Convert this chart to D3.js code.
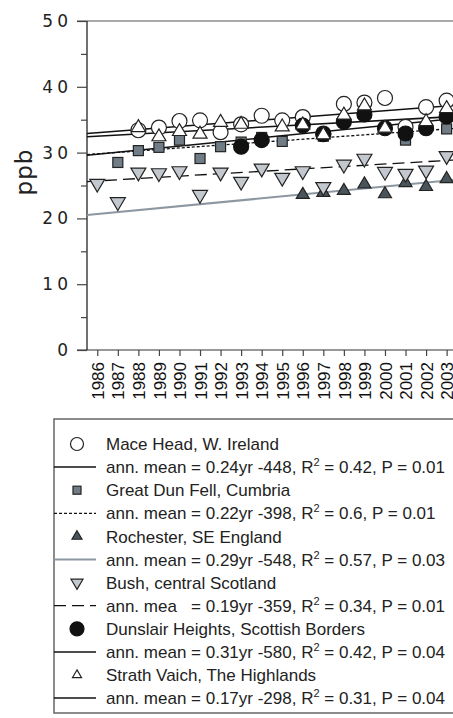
<!DOCTYPE html>
<html><head><meta charset="utf-8">
<script src="https://cdn.jsdelivr.net/npm/d3@7/dist/d3.min.js"></script>
<style>
html,body{margin:0;padding:0;background:#fff;}
svg{display:block;}
</style></head>
<body>
<svg id="chart" width="453" height="718"></svg>
<script>
// ---- data ----
const yTicks = [0, 10, 20, 30, 40, 50];
const yMinorTicks = [5, 15, 25, 35, 45];
const xYears = [1986,1987,1988,1989,1990,1991,1992,1993,1994,1995,1996,1997,1998,1999,2000,2001,2002,2003];

const maceYears = [1988,1989,1990,1991,1992,1993,1994,1995,1996,1997,1998,1999,2000,2001,2002,2003];
const maceValues = [33.4,33.8,34.8,34.9,33.1,34.3,35.6,34.9,35.4,32.9,37.4,37.6,38.3,33.9,36.9,37.9];

const gdfYears = [1987,1988,1989,1990,1991,1992,1993,1994,1995,1997,2001,2003];
const gdfValues = [28.5,30.3,30.8,31.9,29.1,30.9,31.6,32.3,31.7,32.5,31.9,33.6];

const rochYears = [1996,1997,1998,1999,2000,2001,2002,2003];
const rochValues = [23.6,23.9,24.2,25.2,23.7,25.4,24.8,26.0];

const bushYears = [1986,1987,1988,1989,1990,1991,1992,1993,1994,1995,1996,1997,1998,1999,2000,2001,2002,2003];
const bushValues = [25.3,22.5,27.0,26.9,27.2,23.6,27.0,25.6,27.6,26.2,27.2,24.8,28.2,29.1,27.1,26.8,27.3,29.5];

const dunsYears = [1993,1994,1996,1997,1998,1999,2000,2001,2002,2003];
const dunsValues = [30.9,31.9,34.1,32.8,34.7,35.8,33.7,32.9,33.7,35.5];

const strathYears = [1988,1989,1990,1991,1992,1993,1995,1996,1997,1998,1999,2000,2002,2003];
const strathValues = [33.8,32.4,33.2,32.8,34.6,34.3,33.9,34.2,32.7,35.7,37.1,33.7,34.7,36.7];

// trend lines: value at start year and end year
const trendYears = [1985.5, 2003.5];
const maceTrend = [32.9, 37.2];
const gdfTrend = [29.7, 33.7];
const rochTrend = [20.5, 25.9];
const bushTrend = [25.6, 28.9];
const dunsTrend = [29.6, 35.2];
const strathTrend = [32.4, 35.5];

const legendLabels = [
  "Mace Head, W. Ireland",
  ["ann. mean = 0.24yr -448, R", "2", " = 0.42, P = 0.01"],
  "Great Dun Fell, Cumbria",
  ["ann. mean = 0.22yr -398, R", "2", " = 0.6, P = 0.01"],
  "Rochester, SE England",
  ["ann. mean = 0.29yr -548, R", "2", " = 0.57, P = 0.03"],
  "Bush, central Scotland",
  ["ann. mea\u00a0\u00a0 = 0.19yr -359, R", "2", " = 0.34, P = 0.01"],
  "Dunslair Heights, Scottish Borders",
  ["ann. mean = 0.31yr -580, R", "2", " = 0.42, P = 0.04"],
  "Strath Vaich, The Highlands",
  ["ann. mean = 0.17yr -298, R", "2", " = 0.31, P = 0.04"]
];

// ---- scales ----
const svg = d3.select("#chart");
const x = d3.scaleLinear().domain([1985.5, 2003.5]).range([87, 456.9]);
const y = d3.scaleLinear().domain([0, 50]).range([350, 21]);

// ---- styles ----
const styles = {
  mace:   {shape:"circle", size:7.5, fill:"#fff", stroke:"#222", line:{stroke:"#111", w:1.5, dash:null}},
  gdf:    {shape:"square", size:10, fill:"#707d87", stroke:"#222", line:{stroke:"#111", w:1.3, dash:"3,2"}},
  roch:   {shape:"tri", size:13, fill:"#4a555b", stroke:"#222", line:{stroke:"#8c97a1", w:2, dash:null}},
  bush:   {shape:"itri", size:15, fill:"#c3c7ce", stroke:"#222", line:{stroke:"#111", w:1.3, dash:"12,6"}},
  duns:   {shape:"circle", size:7.5, fill:"#111", stroke:"#111", line:{stroke:"#111", w:1.5, dash:null}},
  strath: {shape:"tri", size:14, fill:"#fff", stroke:"#222", line:{stroke:"#111", w:1.5, dash:null}}
};

function drawMarker(g, shape, cx, cy, s, fill, stroke, sw) {
  if (shape === "circle") {
    g.append("circle").attr("cx", cx).attr("cy", cy).attr("r", s)
      .attr("fill", fill).attr("stroke", stroke).attr("stroke-width", sw);
  } else if (shape === "square") {
    g.append("rect").attr("x", cx - s/2).attr("y", cy - s/2).attr("width", s).attr("height", s)
      .attr("fill", fill).attr("stroke", stroke).attr("stroke-width", sw);
  } else if (shape === "tri") {
    const h = s * 0.85;
    g.append("path").attr("d", `M${cx},${cy - h*2/3}L${cx + s/2},${cy + h/3}L${cx - s/2},${cy + h/3}Z`)
      .attr("fill", fill).attr("stroke", stroke).attr("stroke-width", sw).attr("stroke-linejoin","miter");
  } else if (shape === "itri") {
    const h = s * 0.85;
    g.append("path").attr("d", `M${cx},${cy + h*2/3}L${cx + s/2},${cy - h/3}L${cx - s/2},${cy - h/3}Z`)
      .attr("fill", fill).attr("stroke", stroke).attr("stroke-width", sw).attr("stroke-linejoin","miter");
  }
}

// ---- frame & axes ----
const axisColor = "#333";
svg.append("line").attr("x1", 77).attr("x2", 460).attr("y1", y(50)).attr("y2", y(50))
  .attr("stroke", "#555").attr("stroke-width", 1.2);
svg.append("line").attr("x1", 77).attr("x2", 460).attr("y1", y(0)).attr("y2", y(0))
  .attr("stroke", axisColor).attr("stroke-width", 1.2);
svg.append("line").attr("x1", x(1985.5)).attr("x2", x(1985.5)).attr("y1", y(50)).attr("y2", y(0))
  .attr("stroke", "#111").attr("stroke-width", 1.2);

const yAxis = svg.append("g").attr("transform", `translate(${x(1985.5)},0)`)
  .call(d3.axisLeft(y).tickValues(yTicks).tickSize(10).tickPadding(5).tickFormat(d3.format("d")));
yAxis.select(".domain").remove();
yAxis.selectAll("line").attr("stroke", "#444").attr("stroke-width", 1.2);
yAxis.selectAll("text").attr("font-family", "DejaVu Sans").attr("font-size", 17)
  .attr("letter-spacing", "4px").attr("fill", "#222");

const yMinor = svg.append("g").attr("transform", `translate(${x(1985.5)},0)`)
  .call(d3.axisLeft(y).tickValues(yMinorTicks).tickSize(6).tickFormat(""));
yMinor.select(".domain").remove();
yMinor.selectAll("line").attr("stroke", "#444").attr("stroke-width", 1.2);

const xAxis = svg.append("g").attr("transform", `translate(0,${y(0)})`)
  .call(d3.axisBottom(x).tickValues(xYears).tickSize(6).tickFormat(d3.format("d")));
xAxis.select(".domain").remove();
xAxis.selectAll("line").attr("stroke", "#444").attr("stroke-width", 1.2);
xAxis.selectAll("text")
  .attr("transform", "rotate(-90)").attr("x", -12).attr("y", 0).attr("dy", "0.36em")
  .attr("text-anchor", "end").attr("font-family", "Liberation Sans, Arial, sans-serif")
  .attr("font-size", 17).attr("fill", "#111");

svg.append("text").attr("transform", `translate(${32},${172}) rotate(-90)`)
  .attr("text-anchor", "middle").attr("font-family", "DejaVu Sans").attr("font-size", 23)
  .attr("letter-spacing", "1px").attr("fill", "#222").text("ppb");

// ---- trend lines ----
const plot = svg.append("g");
const lineGen = d3.line().x(d => x(d[0])).y(d => y(d[1]));
function trend(vals, st) {
  plot.append("path").attr("d", lineGen(trendYears.map((t, i) => [t, vals[i]])))
    .attr("fill", "none").attr("stroke", st.line.stroke).attr("stroke-width", st.line.w)
    .attr("stroke-dasharray", st.line.dash);
}
trend(rochTrend, styles.roch);
trend(bushTrend, styles.bush);
trend(gdfTrend, styles.gdf);
trend(dunsTrend, styles.duns);
trend(strathTrend, styles.strath);
trend(maceTrend, styles.mace);

// ---- markers ----
function series(years, vals, st) {
  const g = plot.append("g");
  years.forEach((yr, i) => drawMarker(g, st.shape, x(yr), y(vals[i]), st.size, st.fill, st.stroke, 1.2));
}
series(maceYears, maceValues, styles.mace);
series(gdfYears, gdfValues, styles.gdf);
series(rochYears, rochValues, styles.roch);
series(bushYears, bushValues, styles.bush);
series(dunsYears, dunsValues, styles.duns);
series(strathYears, strathValues, styles.strath);

// ---- legend ----
const leg = svg.append("g");
const legTop = 419, legLeft = 54;
leg.append("rect").attr("x", legLeft).attr("y", legTop).attr("width", 420).attr("height", 294)
  .attr("fill", "none").attr("stroke", "#666").attr("stroke-width", 1.5);
const legendStyles = [styles.mace, styles.gdf, styles.roch, styles.bush, styles.duns, styles.strath];
const legendMarkerSize = [6.5, 8, 10, 12, 7, 9];
legendLabels.forEach((lab, i) => {
  const ry = 444 + i * 23.1;
  const st = legendStyles[Math.floor(i / 2)];
  if (i % 2 === 0) {
    drawMarker(leg, st.shape, 77, ry, legendMarkerSize[i/2], st.fill, st.stroke, 1.2);
  } else {
    leg.append("line").attr("x1", legLeft).attr("x2", 96).attr("y1", ry).attr("y2", ry)
      .attr("stroke", st.line.stroke).attr("stroke-width", st.line.w)
      .attr("stroke-dasharray", st.line.dash);
  }
  const t = leg.append("text").attr("x", 106).attr("y", ry).attr("dy", "0.36em")
    .attr("font-family", "Liberation Sans, Arial, sans-serif").attr("font-size", 17).attr("fill", "#222");
  if (typeof lab === "string") t.text(lab);
  else {
    t.append("tspan").text(lab[0]);
    t.append("tspan").attr("dy", -7).attr("font-size", 11).text(lab[1]);
    t.append("tspan").attr("dy", 7).text(lab[2]);
  }
});
</script>
</body></html>
